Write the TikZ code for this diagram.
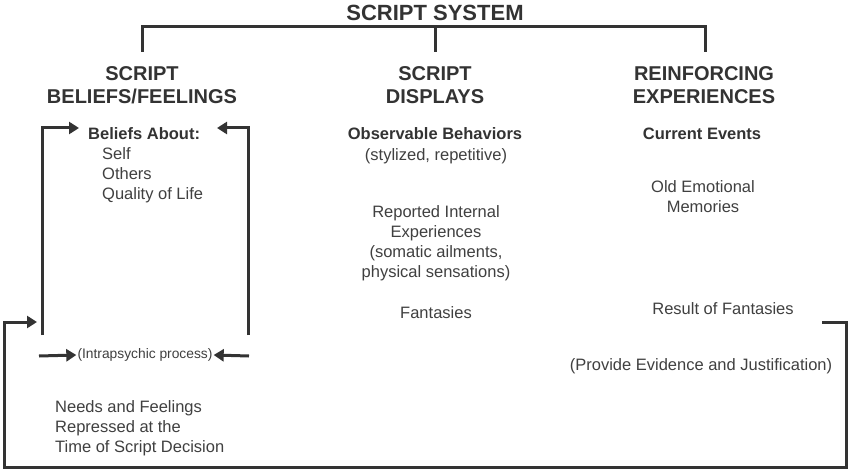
\documentclass[tikz,border=0pt]{standalone}
\usepackage{fontspec}
\setmainfont{Liberation Sans}
\usetikzlibrary{arrows.meta}
\definecolor{ink}{HTML}{333333}
\definecolor{txt}{HTML}{404040}
\begin{document}
\begin{tikzpicture}[x=1pt,y=-1pt,
  ln/.style={draw=ink,line width=3pt},
  arr/.style={ln,-{Triangle[length=10pt,width=12pt]}},
  head/.style={font=\bfseries\fontsize{20}{23}\selectfont,text=ink,align=center,inner sep=0pt},
  ttl/.style={font=\bfseries\fontsize{22}{24}\selectfont,text=ink,inner sep=0pt},
  sub/.style={font=\bfseries\fontsize{16.5}{20}\selectfont,text=ink,inner sep=0pt},
  body/.style={font=\fontsize{16.5}{20}\selectfont,text=txt,align=center,inner sep=0pt},
  bodyl/.style={font=\fontsize{16.5}{20}\selectfont,text=txt,align=left,inner sep=0pt},
  small/.style={font=\fontsize{13.8}{15}\selectfont,text=txt,inner sep=0pt}]
\useasboundingbox[fill=white] (0,0) rectangle (850,470);
% title and bracket
\node[ttl] (title) at (435,13) {SCRIPT SYSTEM};
\coordinate (bl) at (142,52);
\coordinate (bm) at (435,52);
\coordinate (br) at (705,52);
\draw[ln] (bl) -- (142,27) -- (705,27) -- (br);
\draw[ln] (435,27) -- (bm);
% headings
\node[head] (h1) at (142,85.5) {SCRIPT\\BELIEFS/FEELINGS};
\node[head] (h2) at (435,85.5) {SCRIPT\\DISPLAYS};
\node[head] (h3) at (704,85.5) {REINFORCING\\EXPERIENCES};
% left column
\node[sub,anchor=west] (ba) at (88,134) {Beliefs About:};
\node[bodyl,anchor=north west] (bl1) at (102,147) {Self\\Others\\Quality of Life};
\node[small] (ip) at (145,355) {(Intrapsychic process)};
\node[bodyl,anchor=north west] (nf) at (55,400) {Needs and Feelings\\Repressed at the\\Time of Script Decision};
% middle column
\node[sub] (ob) at (435,134) {Observable Behaviors};
\node[body] (st) at (436,156) {(stylized, repetitive)};
\node[body] (ri) at (436,243.5) {Reported Internal\\Experiences\\(somatic ailments,\\physical sensations)};
\node[body] (fa) at (436,313) {Fantasies};
% right column
\node[sub] (ce) at (702,134) {Current Events};
\node[body] (oe) at (703,196.5) {Old Emotional\\Memories};
\node[body] (rf) at (723,309) {Result of Fantasies};
\node[body] (pe) at (701,366) {(Provide Evidence and Justification)};
% loops
\coordinate (la) at (42,335);
\coordinate (ra) at (248,335);
\coordinate (lt) at (79,128);
\coordinate (rt) at (217,128);
\draw[arr] (la) -- (42,128) -- (lt);
\draw[arr] (ra) -- (248,128) -- (rt);
\coordinate (ia) at (39,356);
\coordinate (ib) at (249,356);
\draw[arr] (ia) -- ([xshift=-1pt]ip.west);
\draw[arr] (ib) -- ([xshift=1pt]ip.east);
\coordinate (o1) at (822,322);
\coordinate (o2) at (37,322);
\draw[arr] (o1) -- (846,322) -- (846,467) -- (4,467) -- (4,322) -- (o2);
\end{tikzpicture}
\end{document}
